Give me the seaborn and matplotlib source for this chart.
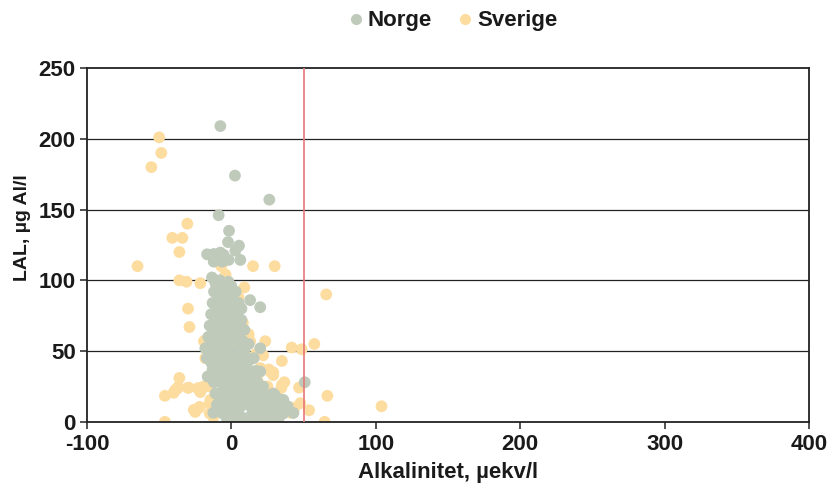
import matplotlib
matplotlib.use("Agg")
import matplotlib.pyplot as plt
import seaborn as sns
import pandas as pd
from matplotlib.lines import Line2D

# Alkalinity (µekv/l) and labile aluminium (µg Al/l) per lake
norge_x = [-7.6, 2.5, 26.3, -8.8, -1.6, -2.3, 5.3, 2.8, -16.8, -12.2, -7.6, -5.3, -1.9, -12.2, -6.4, 6.2,
           -13.4, 13, 20, 20, 15.5, 20, -16.4, 50.8, 36, 43, 29,
           -11, -8, -5, -2, 0, -9,
           -12, -9, -6, -3, 0, 3, -7,
           -13, -10, -7, -4, -1, 2, 5, 7,
           -14, -11, -8, -5, -2, 1, 4, 7,
           -15, -12, -9, -6, -3, 0, 3, 6, 9,
           -16, -13, -10, -7, -4, -1, 2, 5, 8,
           -18, -15, -12, -9, -6, -3, 0, 3, 6, 9, 12,
           -17, -14, -11, -8, -5, -2, 1, 4, 7, 10, 13,
           -13, -10, -7, -4, -1, 2, 5, 8, 11, 14, 17,
           -12, -9, -6, -3, 0, 3, 6, 9, 12, 15, 18, 22,
           -11, -8, -5, -2, 1, 4, 7, 10, 13, 16, 19, 22, 26, 30, 33,
           -10, -7, -4, -1, 2, 5, 8, 11, 14, 17, 20, 23, 26, 29, 32, 35, 39,
           -3, 0, 3, 6, 9, 12, 15, 18, 21, 24, 27, 30, 33, 36, -6, 1, -12.5]
norge_y = [209, 174, 157, 146, 135, 127, 124.5, 121, 118.4, 118.6, 119.6, 118, 114.4, 113.2, 113.2, 114.4,
           102, 86, 81, 52, 45, 35.5, 32, 28, 15.5, 6.3, 20,
           98, 100, 97, 99, 96, 95,
           92, 90, 93, 91, 89, 92, 87,
           84, 82, 85, 83, 86, 82, 84, 80,
           76, 78, 74, 77, 73, 78, 75, 72,
           68, 70, 66, 69, 65, 71, 67, 69, 65,
           60, 62, 58, 61, 57, 63, 59, 61, 57,
           52, 54, 50, 53, 49, 55, 51, 48, 53, 50, 55,
           45, 42, 46, 43, 41, 47, 44, 40, 46, 42, 44,
           37, 34, 38, 35, 39, 33, 37, 34, 38, 33, 36,
           28, 30, 26, 29, 25, 31, 27, 24, 30, 26, 28, 25,
           20, 18, 22, 17, 21, 19, 23, 16, 20, 22, 18, 21, 17, 19, 16,
           12, 9, 14, 10, 13, 8, 12, 15, 10, 13, 9, 14, 11, 8, 12, 10, 11,
           2, 5, 1, 4, 0, 3, 6, 2, 5, 1, 4, 0, 3, 6, 6, 0, 6.4]

sverige_x = [-50, -48.5, -55.4, -30.5, -40.9, -33.9, -36, -65, 15, 30, -7, 65.7, -36, -31, -21.5,
             -30, -29, -19, 23.5, 13, 41.8, 48.7, 57.5, 35, 22, 26, 29, 36.7, 34.6, 46.9, 66.5,
             47.8, 53.8, 64.6, -46, -46, -40, -36.7, -36, -30, -21.5, -21.5, -25, -22, -15, -15,
             -12.5, 25, 32, 22, 41, 43.6, 15, 18, 104,
             -38.8, -37.2, -29.6, -23.3, -26, -22.6, -14.5, -19, 27, 29, 35, 12,
             -10, -14, -8, 5, 8, 10, -5, 12, -3, 3, 0, -18, 12, 9, -4, 17, 20, 6, -16, -9]
sverige_y = [201, 190, 180, 140, 130, 130, 120, 110, 110, 110, 110, 90, 100, 99, 98,
             80, 67, 57, 57, 57, 52.5, 51.3, 55, 43, 47, 37, 35, 28, 24, 24.2, 18.4,
             13.2, 8.2, 0, 0, 18.4, 20.5, 24.7, 31, 24, 24, 21, 7, 10.6, 13, 6,
             3.5, 25, 17.6, 10.6, 6.4, 10, 17.6, 29.7, 11,
             22.6, 23.7, 24.2, 23.7, 8.5, 9.7, 15.5, 25, 35.5, 33, 26, 55.6,
             40, 30, 60, 88, 70, 45, 20, 25, 75, 55, 35, 45, 62, 95, 104, 48, 38, 65, 25, 15]

series = ["Norge", "Sverige"]
colors = {"Norge": "#BFCABB", "Sverige": "#FDDC9F"}

df = pd.concat([
    pd.DataFrame({"alk": sverige_x, "lal": sverige_y, "land": "Sverige"}),
    pd.DataFrame({"alk": norge_x, "lal": norge_y, "land": "Norge"}),
], ignore_index=True)

sns.set_theme(style="white")
plt.rcParams["font.family"] = ["Liberation Sans", "DejaVu Sans"]
plt.rcParams["axes.unicode_minus"] = False

fig = plt.figure(figsize=(8.28, 4.86), dpi=100)
ax = fig.add_axes([0.105, 0.132, 0.872, 0.728])

# horizontal gridlines
for yv in [50, 100, 150, 200]:
    ax.axhline(yv, color="#222222", lw=0.9, zorder=0)

sns.scatterplot(data=df, x="alk", y="lal", hue="land", palette=colors,
                s=72, edgecolor="none", linewidth=0, alpha=1, legend=False,
                ax=ax, zorder=2)

# threshold line at 50 µekv/l
ax.axvline(50, color="#E8767A", lw=1.2, zorder=3)

ax.set_xlim(-100, 400)
ax.set_ylim(0, 250)
ax.set_xticks([-100, 0, 100, 200, 300, 400])
ax.set_yticks([0, 50, 100, 150, 200, 250])
ax.tick_params(axis="both", direction="out", length=5, width=1.1, color="#222222",
               labelsize=16, labelcolor="#1a1a1a", left=True, bottom=True)
ax.tick_params(axis="x", pad=4)
ax.tick_params(axis="y", pad=3)
for lab in ax.get_xticklabels() + ax.get_yticklabels():
    lab.set_fontweight("bold")
for sp in ax.spines.values():
    sp.set_color("#222222")
    sp.set_linewidth(1.3)
    sp.set_visible(True)

ax.set_xlabel("Alkalinitet, \u00b5ekv/l", fontsize=16, fontweight="bold", color="#1a1a1a", labelpad=5)
ax.set_ylabel("LAL, \u00b5g Al/l", fontsize=14, fontweight="bold", color="#1a1a1a")
ax.yaxis.set_label_coords(-0.077, 0.55)

handles = [Line2D([0], [0], marker="o", linestyle="none", markersize=8,
                  markerfacecolor=colors[s], markeredgecolor="none") for s in series]
fig.legend(handles, series, loc="center", bbox_to_anchor=(0.545, 0.957), ncol=2,
           frameon=False, prop={"size": 16, "weight": "bold"}, handletextpad=0.05,
           columnspacing=1.0, handlelength=1.0, labelcolor="#1a1a1a")

fig.savefig("out.png", dpi=100)
